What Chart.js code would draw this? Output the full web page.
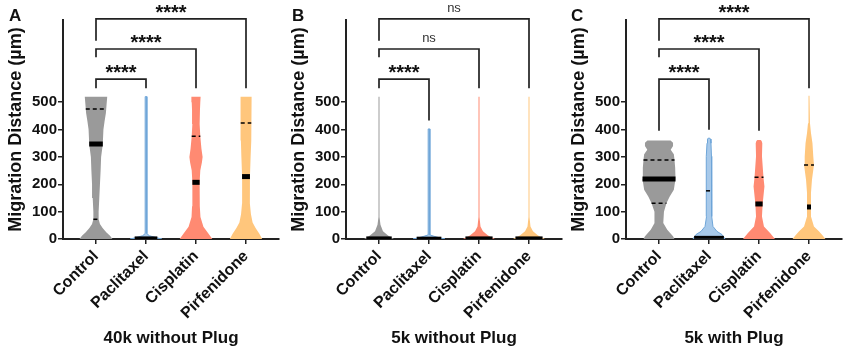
<!DOCTYPE html>
<html>
<head>
<meta charset="utf-8">
<script src="https://cdn.jsdelivr.net/npm/chart.js@4.4.1/dist/chart.umd.min.js"></script>
<style>
  body { margin: 0; background: #fff; width: 845px; height: 349px; overflow: hidden; position: relative; font-family: Arial, "Liberation Sans", sans-serif; }
  .panel { position: absolute; top: 0; width: 282px; height: 349px; }
  .letter { position: absolute; top: 7px; font-weight: bold; font-size: 17px; line-height: 1; color: #111; }
</style>
</head>
<body>
<div class="panel" style="left:0"><canvas id="chart-40k" width="282" height="349"></canvas></div>
<div class="panel" style="left:283px"><canvas id="chart-5k" width="282" height="349"></canvas></div>
<div class="panel" style="left:563px"><canvas id="chart-plug" width="282" height="349"></canvas></div>
<div class="letter" style="left:9px">A</div>
<div class="letter" style="left:292px">B</div>
<div class="letter" style="left:571px">C</div>
<script>
// grupos e eixos
const groups = ['Control', 'Paclitaxel', 'Cisplatin', 'Pirfenidone'];
const yTicks = [0, 100, 200, 300, 400, 500];
const panelTitles = ['40k without Plug', '5k without Plug', '5k with Plug'];

// contornos dos violinos: [distância (µm), densidade relativa]
const control40k = [[0,1],[12,.85],[25,.62],[40,.4],[55,.24],[72,.16],[100,.16],[150,.2],[200,.24],[250,.28],[300,.31],[345,.41],[400,.45],[430,.52],[460,.6],[490,.64],[520,.68]];
const paclitaxel40k = [[0,.96],[6,.55],[12,.2],[20,.05],[520,.05]];
const cisplatin40k = [[0,.99],[20,.75],[45,.45],[80,.27],[120,.24],[160,.22],[207,.22],[250,.26],[280,.36],[300,.4],[330,.33],[375,.26],[420,.22],[470,.24],[500,.26],[520,.28]];
const pirfenidone40k = [[0,.98],[20,.8],[40,.58],[60,.4],[90,.3],[130,.24],[180,.23],[228,.24],[300,.28],[360,.31],[424,.32],[470,.33],[520,.34]];

const control5k = [[0,.91],[6,.7],[13,.55],[28,.24],[52,.09],[80,.03],[520,.03]];
const paclitaxel5k = [[0,.97],[5,.6],[10,.3],[15,.05],[402,.05]];
const cisplatin5k = [[0,.97],[6,.75],[13,.55],[28,.24],[46,.09],[80,.03],[520,.03]];
const pirfenidone5k = [[0,.97],[6,.75],[13,.55],[28,.24],[46,.09],[80,.03],[520,.03]];

const controlPlug = [[0,.94],[10,.85],[34,.5],[58,.27],[82,.25],[100,.3],[131,.45],[155,.65],[180,.9],[219,1],[260,.98],[289,.94],[310,.9],[326,.71],[340,.85],[352,.85],[360,.7]];
const paclitaxelPlug = [[0,.97],[16,.79],[28,.48],[46,.24],[82,.15],[180,.18],[302,.15],[350,.12],[365,.09],[369,.03]];
const cisplatinPlug = [[0,.97],[22,.67],[46,.3],[82,.18],[128,.22],[192,.33],[226,.27],[302,.18],[350,.2],[358,.16],[362,.1]];
const pirfenidonePlug = [[0,1],[15,.8],[28,.6],[46,.3],[82,.12],[117,.12],[168,.12],[216,.18],[270,.3],[301,.26],[350,.21],[387,.12],[423,.06],[523,.03]];

// mediana e quartis
const medians40k = [347, 4, 207, 228];
const upperQ40k = [475, null, 375, 424];
const lowerQ40k = [72, null, null, null];
const medians5k = [4, 3, 4, 4];
const upperQ5k = [null, null, null, null];
const lowerQ5k = [null, null, null, null];
const mediansPlug = [219, 6, 128, 117];
const upperQPlug = [289, 176, 226, 270];
const lowerQPlug = [131, null, null, null];

// comparações com o controle
const bracketHeights = [584, 694, 804];
const bracketTargets = [1, 2, 3];
const stars40k = ['****', '****', '****'];
const stars5k = ['****', 'ns', 'ns'];
const starsPlug = ['****', '****', '****'];
const controlLegs40k = [551, 664, 724];
const targetLegs40k = [551, 551, 551];
const controlLegs5k = [551, 664, 724];
const targetLegs5k = [433, 551, 551];
const controlLegsPlug = [395, 664, 724];
const targetLegsPlug = [399, 395, 551];

const violinFill = ['#9a9a9a', '#a7c9ea', '#ff8a72', '#ffc67c'];
const violinLine = ['rgba(0,0,0,0)', '#6ea5d8', 'rgba(0,0,0,0)', 'rgba(0,0,0,0)'];
const HALF_WIDTH = 0.33;
const FONT = 'Arial, "Liberation Sans", sans-serif';

function densityAt(shape, v) {
    for (let i = 1; i < shape.length; i++) {
        if (v <= shape[i][0]) {
            const [v0, d0] = shape[i - 1], [v1, d1] = shape[i];
            return d0 + (d1 - d0) * (v - v0) / (v1 - v0);
        }
    }
    return shape[shape.length - 1][1];
}

function violinPoints(shape, center) {
    const left = shape.map(([v, d]) => ({x: center - d * HALF_WIDTH, y: v}));
    const right = shape.slice().reverse().map(([v, d]) => ({x: center + d * HALF_WIDTH, y: v}));
    return left.concat(right, [left[0]]);
}

function statLine(shape, center, v) {
    const w = densityAt(shape, v) * HALF_WIDTH;
    return [{x: center - w, y: v}, {x: center + w, y: v}];
}

// desenha os asteriscos / ns acima de cada colchete
const bracketLabels = {
    id: 'bracketLabels',
    afterDatasetsDraw(chart, args, opts) {
        const {ctx, scales: {x, y}} = chart;
        opts.labels.forEach(function(txt, i) {
            const px = x.getPixelForValue(bracketTargets[i] / 2);
            const py = y.getPixelForValue(bracketHeights[i]);
            ctx.save();
            ctx.textAlign = 'center';
            ctx.textBaseline = 'alphabetic';
            if (txt === 'ns') {
                ctx.font = '13px ' + FONT;
                ctx.fillStyle = '#333';
                ctx.fillText(txt, px, py - 7);
            } else {
                ctx.font = 'bold 20px ' + FONT;
                ctx.fillStyle = '#111';
                ctx.fillText(txt, px, py);
            }
            ctx.restore();
        });
    }
};

function buildPanel(canvasId, title, shapes, medians, upperQ, lowerQ, stars, controlLegs, targetLegs) {
    const datasets = [];

    shapes.forEach(function(shape, i) {
        datasets.push({
            data: violinPoints(shape, i),
            showLine: true, fill: 'shape', order: 3,
            backgroundColor: violinFill[i], borderColor: violinLine[i], borderWidth: 1,
            pointRadius: 0
        });
        datasets.push({
            data: statLine(shape, i, medians[i]),
            showLine: true, order: 1, borderColor: '#000',
            borderWidth: medians[i] < 20 ? 3 : 5, borderCapStyle: 'butt', pointRadius: 0
        });
        [upperQ[i], lowerQ[i]].forEach(function(q) {
            if (q === null) return;
            datasets.push({
                data: statLine(shape, i, q),
                showLine: true, order: 0, borderColor: '#000', borderWidth: 1.5,
                borderDash: [4, 3], borderCapStyle: 'butt', pointRadius: 0
            });
        });
    });

    bracketHeights.forEach(function(h, i) {
        const t = bracketTargets[i];
        datasets.push({
            data: [{x: 0, y: controlLegs[i]}, {x: 0, y: h}, {x: t, y: h}, {x: t, y: targetLegs[i]}],
            showLine: true, order: 2, clip: false, borderColor: '#222', borderWidth: 1.7,
            borderJoinStyle: 'miter', pointRadius: 0
        });
    });

    new Chart(document.getElementById(canvasId).getContext('2d'), {
        type: 'scatter',
        data: {datasets: datasets},
        options: {
            responsive: false,
            animation: false,
            layout: {padding: {top: 20, right: 3, left: 0, bottom: 0}},
            elements: {line: {tension: 0}},
            scales: {
                x: {
                    type: 'linear', min: -0.66, max: 3.66,
                    afterBuildTicks: function(s) { s.ticks = groups.map((g, i) => ({value: i})); },
                    afterFit: function(s) { s.height = 110; },
                    ticks: {
                        autoSkip: false, minRotation: 45, maxRotation: 45, padding: 3,
                        color: '#111', font: {family: FONT, size: 16, weight: 'bold'},
                        callback: v => groups[v]
                    },
                    grid: {drawOnChartArea: false, drawTicks: true, tickLength: 5, color: '#222', lineWidth: 1.5},
                    border: {color: '#222', width: 2},
                    title: {display: true, text: title, color: '#111', font: {family: FONT, size: 17, weight: 'bold'}, padding: {top: 0, bottom: 0}}
                },
                y: {
                    type: 'linear', min: 0, max: 800,
                    afterBuildTicks: function(s) { s.ticks = yTicks.map(v => ({value: v})); },
                    afterFit: function(s) { s.width = 63; },
                    ticks: {color: '#111', padding: 1, font: {family: FONT, size: 15, weight: 'bold'}},
                    grid: {drawOnChartArea: false, drawTicks: true, tickLength: 5, color: '#222', lineWidth: 1.5},
                    border: {color: '#222', width: 2},
                    title: {display: true, text: 'Migration Distance (µm)', color: '#111', font: {family: FONT, size: 18, weight: 'bold'}, padding: {top: 5, bottom: 0}}
                }
            },
            plugins: {
                legend: {display: false},
                tooltip: {enabled: false},
                bracketLabels: {labels: stars}
            }
        },
        plugins: [bracketLabels]
    });
}

buildPanel('chart-40k', panelTitles[0], [control40k, paclitaxel40k, cisplatin40k, pirfenidone40k],
    medians40k, upperQ40k, lowerQ40k, stars40k, controlLegs40k, targetLegs40k);
buildPanel('chart-5k', panelTitles[1], [control5k, paclitaxel5k, cisplatin5k, pirfenidone5k],
    medians5k, upperQ5k, lowerQ5k, stars5k, controlLegs5k, targetLegs5k);
buildPanel('chart-plug', panelTitles[2], [controlPlug, paclitaxelPlug, cisplatinPlug, pirfenidonePlug],
    mediansPlug, upperQPlug, lowerQPlug, starsPlug, controlLegsPlug, targetLegsPlug);
</script>
</body>
</html>
